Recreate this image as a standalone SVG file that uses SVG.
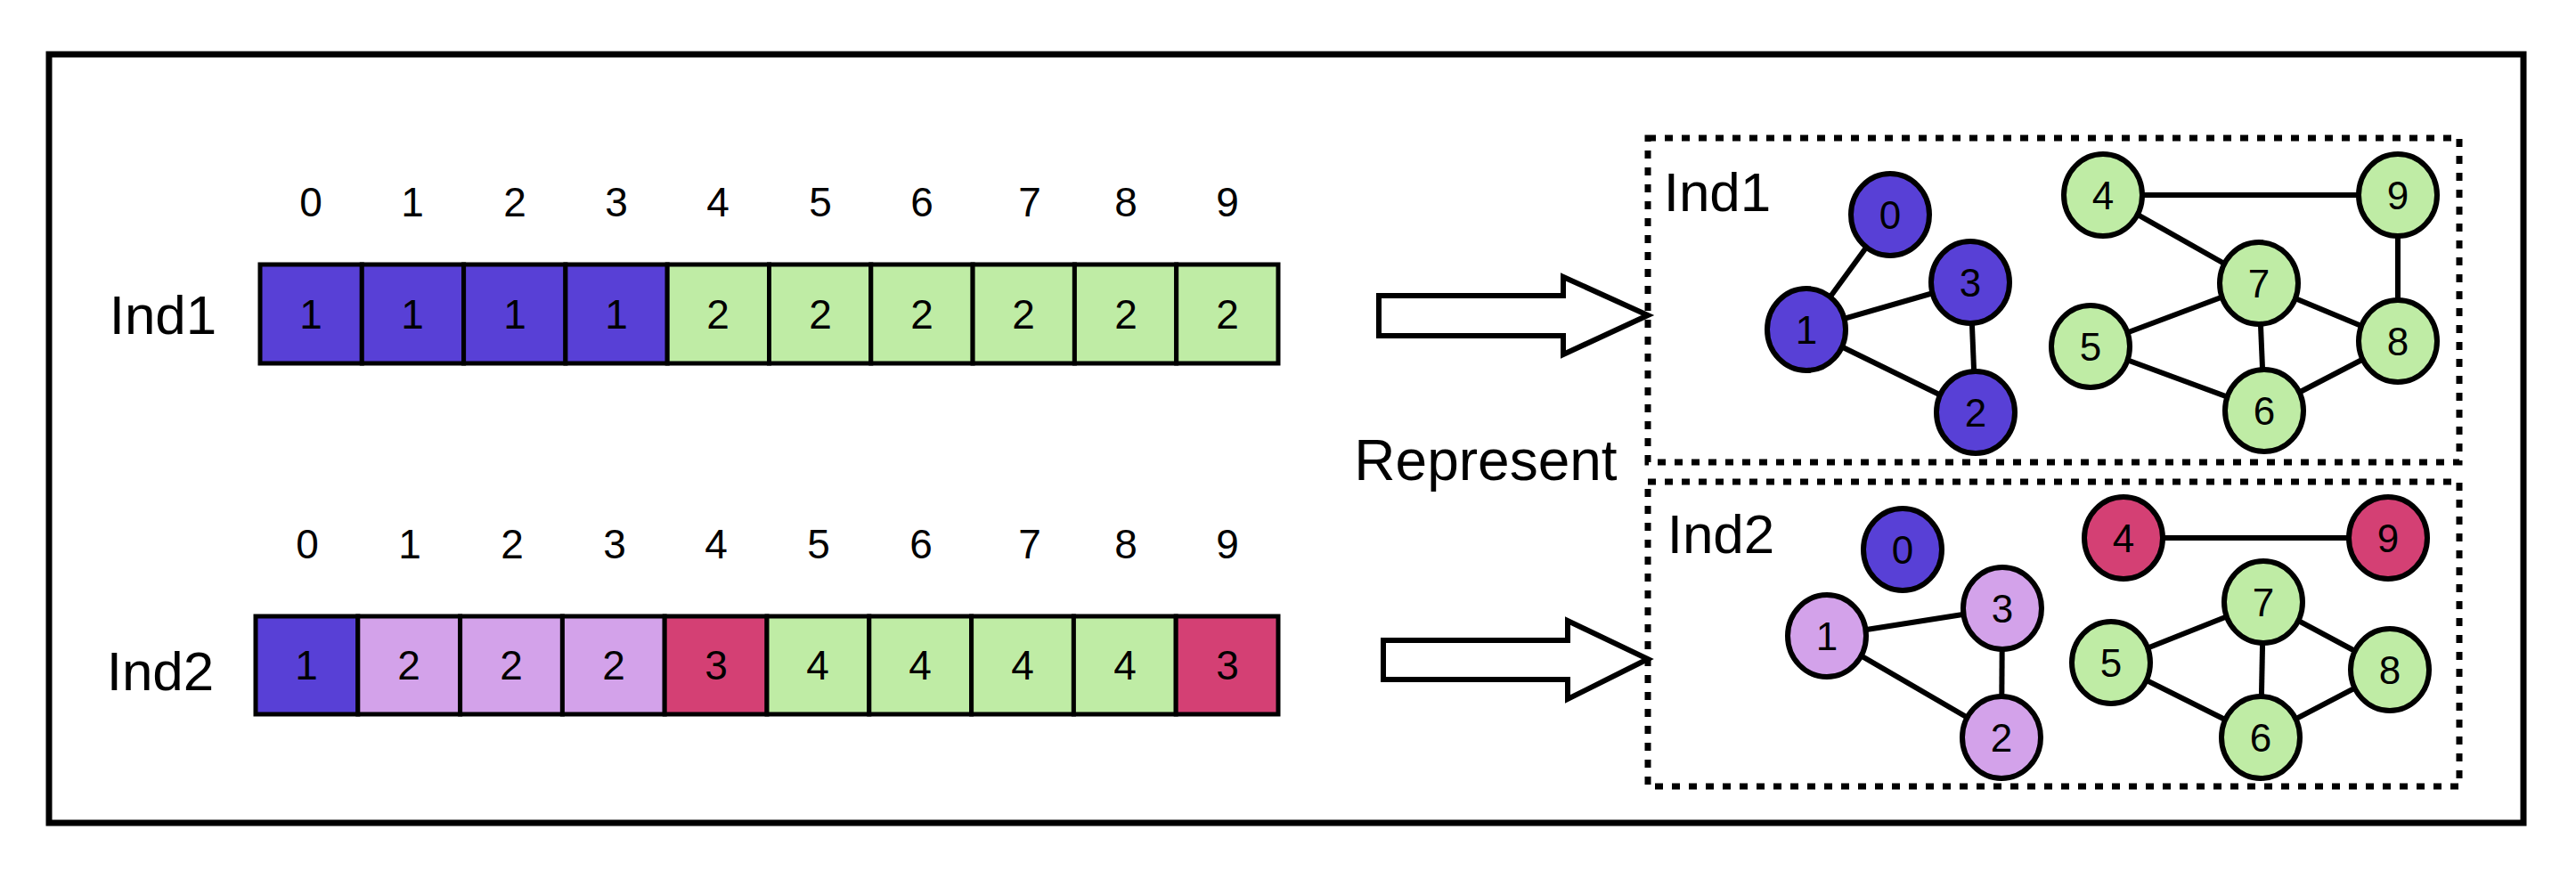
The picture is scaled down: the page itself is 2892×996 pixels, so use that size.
<svg xmlns="http://www.w3.org/2000/svg" width="2892" height="996" viewBox="0 0 2892 996">
<style>
text{font-family:"Liberation Sans",Arial,sans-serif;text-anchor:middle;fill:#000}
.idx{font-size:46px}
.cv{font-size:46px}
.lab{font-size:62px}
.c{stroke:#000;stroke-width:5}
.n{stroke:#000;stroke-width:6}
.b{fill:#5840d6}.g{fill:#bfeca5}.p{fill:#d3a2ea}.r{fill:#d44074}
.e{stroke:#000;stroke-width:6}
.d{fill:none;stroke:#000;stroke-width:7;stroke-dasharray:9 10}
.nt{font-size:44px}
</style>
<rect x="55" y="61" width="2778" height="863" fill="#fff" stroke="#000" stroke-width="7"/>
<g id="ind1-array">
<text class="lab" x="183" y="375">Ind1</text>
<g class="idx">
<text x="349" y="243">0</text><text x="463" y="243">1</text><text x="578" y="243">2</text><text x="692" y="243">3</text><text x="806" y="243">4</text><text x="921" y="243">5</text><text x="1035" y="243">6</text><text x="1156" y="243">7</text><text x="1264" y="243">8</text><text x="1378" y="243">9</text>
</g>
<rect class="c b" x="292" y="297" width="114.3" height="111"/><rect class="c b" x="406.3" y="297" width="114.3" height="111"/><rect class="c b" x="520.6" y="297" width="114.3" height="111"/><rect class="c b" x="634.9" y="297" width="114.3" height="111"/>
<rect class="c g" x="749.2" y="297" width="114.3" height="111"/><rect class="c g" x="863.5" y="297" width="114.3" height="111"/><rect class="c g" x="977.8" y="297" width="114.3" height="111"/><rect class="c g" x="1092.1" y="297" width="114.3" height="111"/><rect class="c g" x="1206.4" y="297" width="114.3" height="111"/><rect class="c g" x="1320.7" y="297" width="114.3" height="111"/>
<g class="cv">
<text x="349" y="369">1</text><text x="463" y="369">1</text><text x="578" y="369">1</text><text x="692" y="369">1</text><text x="806" y="369">2</text><text x="921" y="369">2</text><text x="1035" y="369">2</text><text x="1149" y="369">2</text><text x="1264" y="369">2</text><text x="1378" y="369">2</text>
</g>
</g>
<g id="ind2-array">
<text class="lab" x="180" y="775">Ind2</text>
<g class="idx">
<text x="345" y="627">0</text><text x="460" y="627">1</text><text x="575" y="627">2</text><text x="690" y="627">3</text><text x="804" y="627">4</text><text x="919" y="627">5</text><text x="1034" y="627">6</text><text x="1156" y="627">7</text><text x="1264" y="627">8</text><text x="1378" y="627">9</text>
</g>
<rect class="c b" x="287" y="692" width="114.8" height="110"/><rect class="c p" x="401.8" y="692" width="114.8" height="110"/><rect class="c p" x="516.6" y="692" width="114.8" height="110"/><rect class="c p" x="631.4" y="692" width="114.8" height="110"/><rect class="c r" x="746.2" y="692" width="114.8" height="110"/>
<rect class="c g" x="861" y="692" width="114.8" height="110"/><rect class="c g" x="975.8" y="692" width="114.8" height="110"/><rect class="c g" x="1090.6" y="692" width="114.8" height="110"/><rect class="c g" x="1205.4" y="692" width="114.8" height="110"/><rect class="c r" x="1320.2" y="692" width="114.8" height="110"/>
<g class="cv">
<text x="344" y="763">1</text><text x="459" y="763">2</text><text x="574" y="763">2</text><text x="689" y="763">2</text><text x="804" y="763">3</text><text x="918" y="763">4</text><text x="1033" y="763">4</text><text x="1148" y="763">4</text><text x="1263" y="763">4</text><text x="1378" y="763">3</text>
</g>
</g>
<g id="arrows" fill="#fff" stroke="#000" stroke-width="6">
<path d="M1548,332 H1755 V311 L1850,354 L1755,398 V377 H1548 Z"/>
<path d="M1553,719 H1760 V697 L1850,740 L1760,785 V763 H1553 Z"/>
</g>
<text id="represent" x="1668" y="539" style="font-size:64px">Represent</text>
<g id="box1">
<rect class="d" x="1850" y="155" width="911" height="364"/>
<text class="lab" x="1928" y="237">Ind1</text>
</g>
<g id="box2">
<rect class="d" x="1850" y="541" width="911" height="342"/>
<text class="lab" x="1932" y="621">Ind2</text>
</g>
<g id="connectors" class="e">
<line x1="2122" y1="241" x2="2028" y2="370"/><line x1="2028" y1="370" x2="2212" y2="317"/><line x1="2212" y1="317" x2="2218" y2="463"/><line x1="2028" y1="370" x2="2218" y2="463"/>
<line x1="2361" y1="219" x2="2692" y2="219"/><line x1="2361" y1="219" x2="2536" y2="318"/><line x1="2692" y1="219" x2="2692" y2="383"/><line x1="2536" y1="318" x2="2347" y2="389"/><line x1="2536" y1="318" x2="2692" y2="383"/><line x1="2536" y1="318" x2="2542" y2="461"/><line x1="2347" y1="389" x2="2542" y2="461"/><line x1="2542" y1="461" x2="2692" y2="383"/>
<line x1="2051" y1="714" x2="2248" y2="683"/><line x1="2248" y1="683" x2="2247" y2="828"/><line x1="2051" y1="714" x2="2247" y2="828"/>
<line x1="2384" y1="604" x2="2681" y2="604"/><line x1="2541" y1="676" x2="2370" y2="744"/><line x1="2541" y1="676" x2="2683" y2="752"/><line x1="2541" y1="676" x2="2538" y2="828"/><line x1="2370" y1="744" x2="2538" y2="828"/><line x1="2538" y1="828" x2="2683" y2="752"/>
</g>
<g id="g1-n0"><ellipse class="n b" cx="2122" cy="241" rx="44" ry="46"/><text class="nt" x="2122" y="257">0</text></g>
<g id="g1-n1"><ellipse class="n b" cx="2028" cy="370" rx="44" ry="46"/><text class="nt" x="2028" y="386">1</text></g>
<g id="g1-n2"><ellipse class="n b" cx="2218" cy="463" rx="44" ry="46"/><text class="nt" x="2218" y="479">2</text></g>
<g id="g1-n3"><ellipse class="n b" cx="2212" cy="317" rx="44" ry="46"/><text class="nt" x="2212" y="333">3</text></g>
<g id="g1-n4"><ellipse class="n g" cx="2361" cy="219" rx="44" ry="46"/><text class="nt" x="2361" y="235">4</text></g>
<g id="g1-n5"><ellipse class="n g" cx="2347" cy="389" rx="44" ry="46"/><text class="nt" x="2347" y="405">5</text></g>
<g id="g1-n6"><ellipse class="n g" cx="2542" cy="461" rx="44" ry="46"/><text class="nt" x="2542" y="477">6</text></g>
<g id="g1-n7"><ellipse class="n g" cx="2536" cy="318" rx="44" ry="46"/><text class="nt" x="2536" y="334">7</text></g>
<g id="g1-n8"><ellipse class="n g" cx="2692" cy="383" rx="44" ry="46"/><text class="nt" x="2692" y="399">8</text></g>
<g id="g1-n9"><ellipse class="n g" cx="2692" cy="219" rx="44" ry="46"/><text class="nt" x="2692" y="235">9</text></g>
<g id="g2-n0"><ellipse class="n b" cx="2136" cy="617" rx="44" ry="46"/><text class="nt" x="2136" y="633">0</text></g>
<g id="g2-n1"><ellipse class="n p" cx="2051" cy="714" rx="44" ry="46"/><text class="nt" x="2051" y="730">1</text></g>
<g id="g2-n2"><ellipse class="n p" cx="2247" cy="828" rx="44" ry="46"/><text class="nt" x="2247" y="844">2</text></g>
<g id="g2-n3"><ellipse class="n p" cx="2248" cy="683" rx="44" ry="46"/><text class="nt" x="2248" y="699">3</text></g>
<g id="g2-n4"><ellipse class="n r" cx="2384" cy="604" rx="44" ry="46"/><text class="nt" x="2384" y="620">4</text></g>
<g id="g2-n5"><ellipse class="n g" cx="2370" cy="744" rx="44" ry="46"/><text class="nt" x="2370" y="760">5</text></g>
<g id="g2-n6"><ellipse class="n g" cx="2538" cy="828" rx="44" ry="46"/><text class="nt" x="2538" y="844">6</text></g>
<g id="g2-n7"><ellipse class="n g" cx="2541" cy="676" rx="44" ry="46"/><text class="nt" x="2541" y="692">7</text></g>
<g id="g2-n8"><ellipse class="n g" cx="2683" cy="752" rx="44" ry="46"/><text class="nt" x="2683" y="768">8</text></g>
<g id="g2-n9"><ellipse class="n r" cx="2681" cy="604" rx="44" ry="46"/><text class="nt" x="2681" y="620">9</text></g>
</svg>
